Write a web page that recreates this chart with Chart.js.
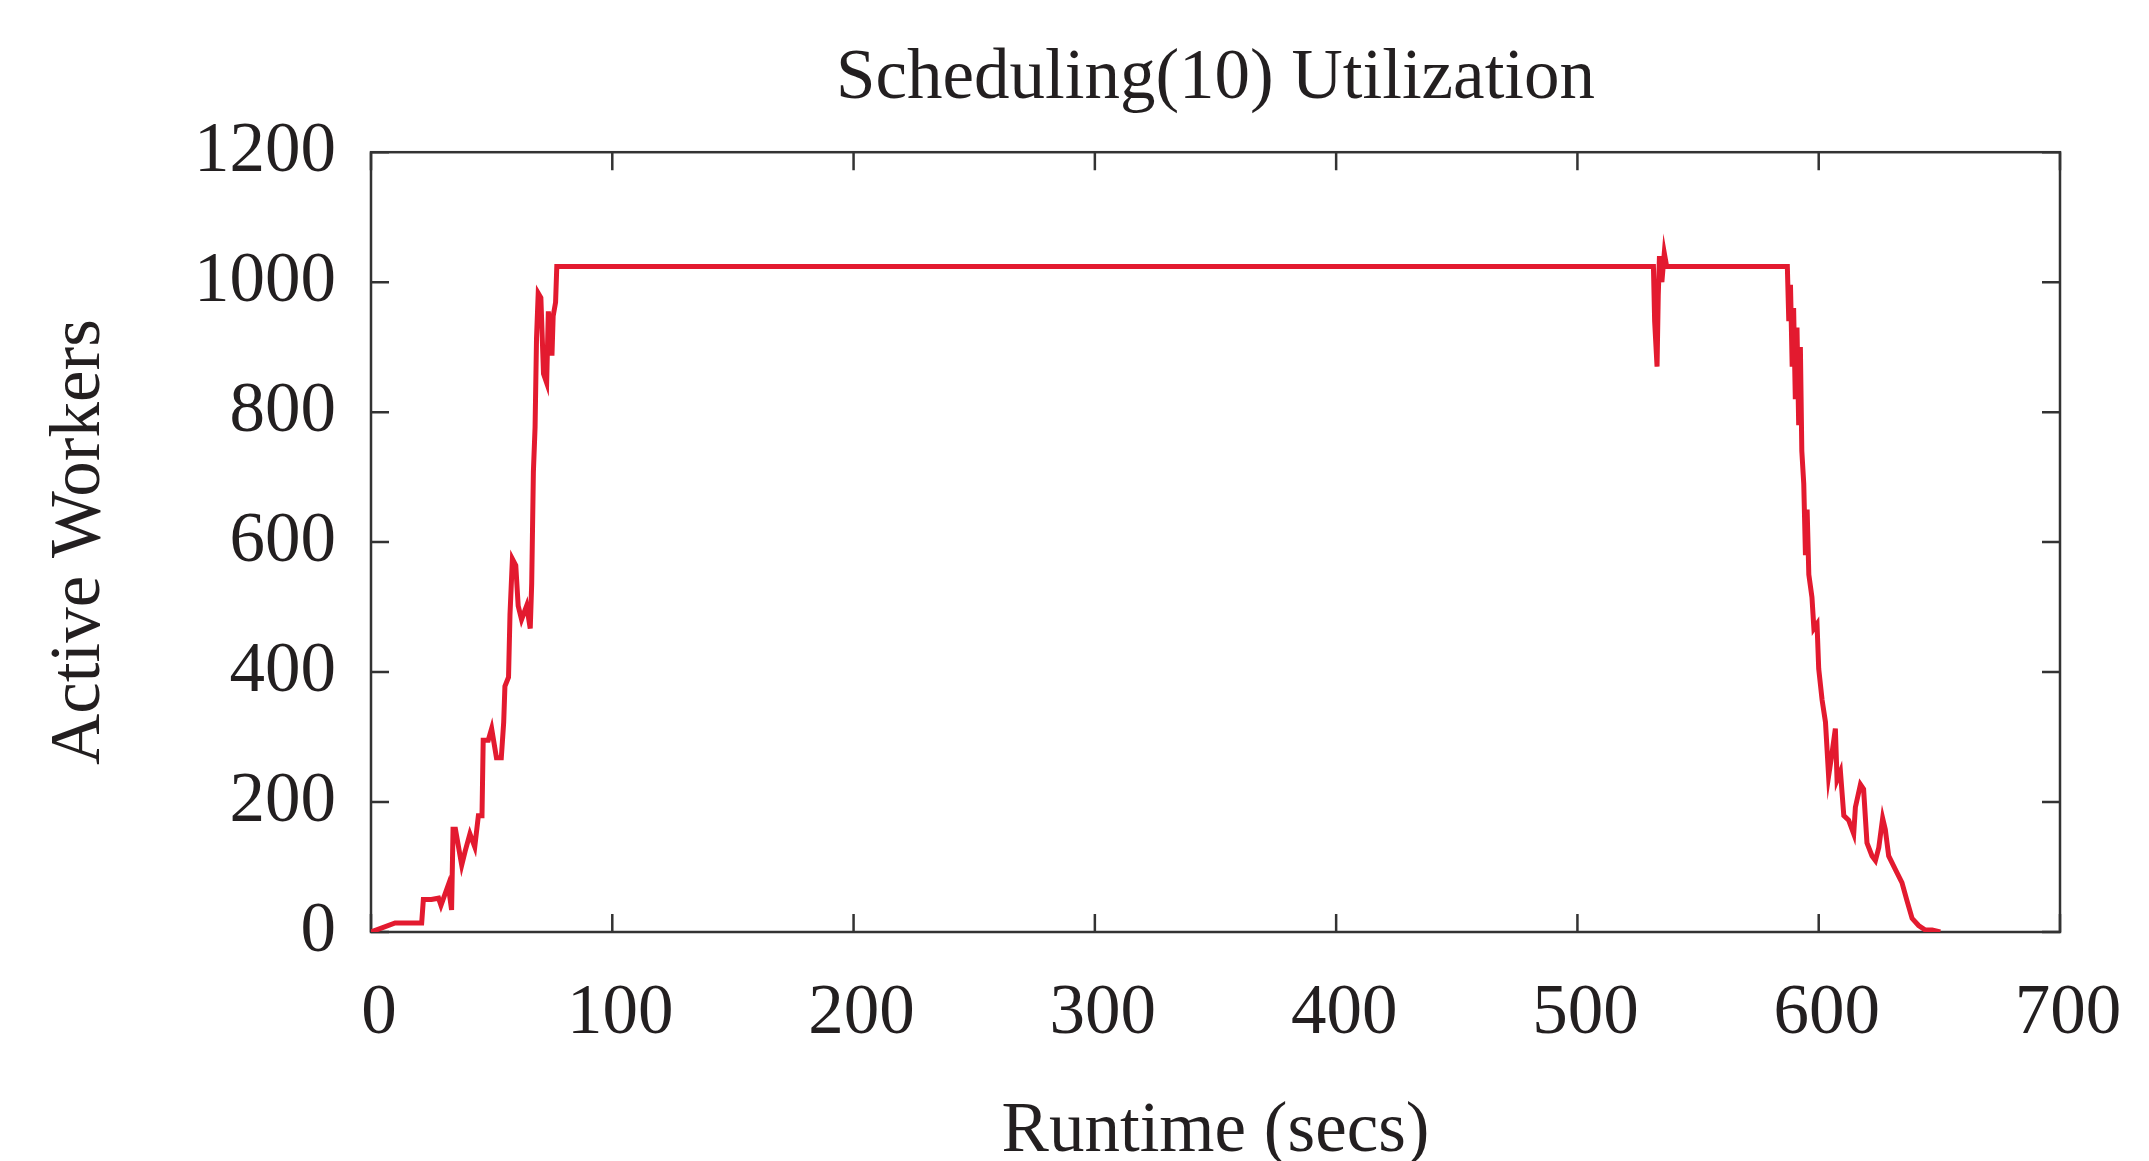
<!DOCTYPE html>
<html>
<head>
<meta charset="utf-8">
<title>Scheduling(10) Utilization</title>
<script src="https://cdn.jsdelivr.net/npm/chart.js@4.4.1/dist/chart.umd.min.js"></script>
<style>
  html, body { margin: 0; padding: 0; background: #fff; }
  #wrap { width: 2149px; height: 1161px; }
</style>
</head>
<body>
<div id="wrap"><canvas id="utilChart" width="2149" height="1161"></canvas></div>
<script>
'use strict';

// ============================================================
// DATA
// ============================================================
const runtimeSecs = [
  0, 10, 21, 21.7, 25, 28, 29, 32, 33.4, 34, 35, 37.6, 39, 41, 43, 44.5, 46,
  46.5, 48.6, 50, 52, 54, 55, 55.5, 57, 57.6, 58.6, 60, 61, 62.4, 64.5, 66,
  66.6, 67.3, 68, 68.6, 69.3, 70.4, 71.5, 72.8, 73.5, 75, 75.5, 76.5, 77,
  531.5, 532, 533, 533.5, 534, 535, 536, 537,
  587, 587.6, 588.3, 589, 589.6, 590.3, 591, 591.7, 592.4, 593, 593.8, 594.5,
  595.2, 595.9, 597.2, 598, 599.3, 600, 601.4, 602.8, 604.1, 605.5, 606.9,
  607.6, 609, 610.4, 612.4, 614.5, 615.2, 617.3, 618.6, 620, 622.1, 623.5,
  624.9, 626.5, 627.6, 629, 631.8, 634.5, 636.6, 638.7, 641.4, 644.2, 647, 650.4
];
const activeWorkers = [
  0, 14, 14, 50, 50, 52, 41, 72, 34, 158, 158, 103, 124, 151, 131, 179, 179,
  295, 295, 313, 268, 268, 323, 378, 392, 488, 574, 564, 502, 481, 502, 467,
  536, 708, 777, 914, 983, 976, 859, 845, 955, 887, 948, 969, 1024,
  1024, 940, 870, 980, 1040, 1000, 1045, 1024,
  1024, 940, 996, 870, 960, 820, 930, 780, 900, 740, 690, 580,
  650, 550, 515, 467, 474, 405, 357, 323, 240, 275, 313,
  234, 247, 179, 172, 151, 192, 227, 220, 137, 117, 110,
  130, 175, 158, 117, 96, 76, 48, 21, 10, 3, 3, 0
];
const xTickValues = [0, 100, 200, 300, 400, 500, 600, 700];
const yTickValues = [0, 200, 400, 600, 800, 1000, 1200];

const LINE_COLOR = '#e31a2f';
const AXIS_COLOR = '#333333';
const TEXT_COLOR = '#231f20';
const FONT_FAMILY = '"Liberation Serif", "DejaVu Serif", serif';
const FONT_SIZE = 71;
const TICK_LEN = 18;

// ============================================================
// FRAME + INWARD TICKS (gnuplot style, mirrored on all sides)
// ============================================================
const frameTicks = {
  id: 'frameTicks',
  beforeDatasetsDraw(chart) {
    const { ctx, chartArea: a, scales: { x, y } } = chart;
    ctx.save();
    ctx.strokeStyle = AXIS_COLOR;
    ctx.lineWidth = 2.5;
    ctx.strokeRect(a.left, a.top, a.right - a.left, a.bottom - a.top);
    ctx.beginPath();
    x.ticks.forEach(t => {
      const px = x.getPixelForValue(t.value);
      ctx.moveTo(px, a.bottom); ctx.lineTo(px, a.bottom - TICK_LEN);
      ctx.moveTo(px, a.top);    ctx.lineTo(px, a.top + TICK_LEN);
    });
    y.ticks.forEach(t => {
      const py = y.getPixelForValue(t.value);
      ctx.moveTo(a.left, py);  ctx.lineTo(a.left + TICK_LEN, py);
      ctx.moveTo(a.right, py); ctx.lineTo(a.right - TICK_LEN, py);
    });
    ctx.stroke();
    ctx.restore();
  }
};

// ============================================================
// CHART
// ============================================================
const points = runtimeSecs.map((t, i) => ({ x: t, y: activeWorkers[i] }));

new Chart(document.getElementById('utilChart'), {
  type: 'line',
  data: {
    datasets: [{
      label: 'Active Workers',
      data: points,
      borderColor: LINE_COLOR,
      borderWidth: 5,
      pointRadius: 0,
      tension: 0,
      fill: false,
    }]
  },
  options: {
    responsive: false,
    animation: false,
    layout: { padding: { left: 0, right: 89, top: 0, bottom: 0 } },
    plugins: {
      legend: { display: false },
      tooltip: { enabled: false },
      title: {
        display: true,
        text: 'Scheduling(10) Utilization',
        fullSize: false,
        color: TEXT_COLOR,
        font: { family: FONT_FAMILY, size: FONT_SIZE, weight: 'normal', lineHeight: 1.2 },
        padding: { top: 37, bottom: 30 }
      }
    },
    scales: {
      x: {
        type: 'linear',
        min: 0, max: 700,
        afterBuildTicks: s => { s.ticks = xTickValues.map(v => ({ value: v })); },
        afterFit: s => { s.height = 229; s.paddingLeft = 0; s.paddingRight = 0; },
        grid: { display: false, drawTicks: false, tickLength: 0 },
        border: { display: false },
        ticks: {
          color: TEXT_COLOR, padding: 40, labelOffset: 8,
          font: { family: FONT_FAMILY, size: FONT_SIZE },
          callback: v => String(v)
        },
        title: {
          display: true, text: 'Runtime (secs)', color: TEXT_COLOR,
          font: { family: FONT_FAMILY, size: FONT_SIZE, lineHeight: 0.8 },
          padding: { top: 0, bottom: 0 }
        }
      },
      y: {
        min: 0, max: 1200,
        afterBuildTicks: s => { s.ticks = yTickValues.map(v => ({ value: v })); },
        afterFit: s => { s.width = 371; s.paddingTop = 0; s.paddingBottom = 0; },
        grid: { display: false, drawTicks: false, tickLength: 0 },
        border: { display: false },
        ticks: {
          color: TEXT_COLOR, padding: 35,
          font: { family: FONT_FAMILY, size: FONT_SIZE },
          callback: v => String(v)
        },
        title: {
          display: true, text: 'Active Workers', color: TEXT_COLOR,
          font: { family: FONT_FAMILY, size: FONT_SIZE, lineHeight: 1.2 },
          padding: { top: 38, bottom: 0 }
        }
      }
    }
  },
  plugins: [frameTicks]
});
</script>
</body>
</html>
